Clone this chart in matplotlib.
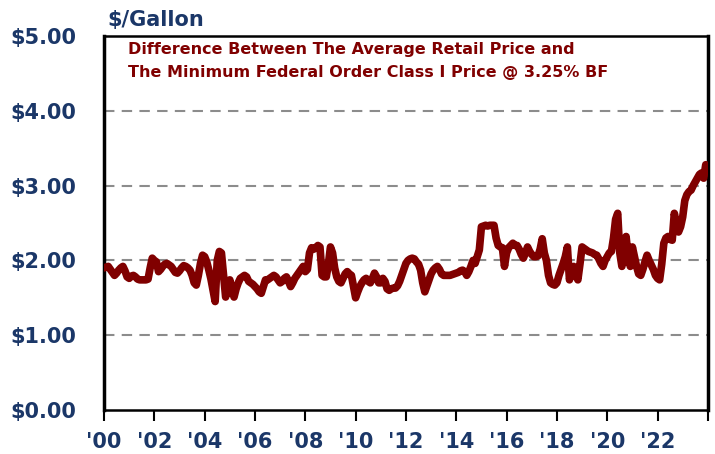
import numpy as np
from matplotlib import pyplot as plt

# monthly spread, Jan 2000 .. Dec 2023 ($/gallon)
y2000 = [1.90, 1.91, 1.92, 1.88, 1.84, 1.80, 1.83, 1.87, 1.90, 1.92, 1.86, 1.78]
y2001 = [1.76, 1.79, 1.80, 1.78, 1.75, 1.74, 1.74, 1.74, 1.74, 1.75, 1.90, 2.03]
y2002 = [2.00, 1.98, 1.85, 1.88, 1.92, 1.95, 1.96, 1.94, 1.92, 1.88, 1.84, 1.83]
y2003 = [1.86, 1.90, 1.93, 1.92, 1.90, 1.87, 1.80, 1.70, 1.67, 1.80, 1.96, 2.07]
y2004 = [2.05, 1.98, 1.87, 1.75, 1.60, 1.45, 2.00, 2.12, 2.10, 1.80, 1.51, 1.62]
y2005 = [1.74, 1.62, 1.51, 1.62, 1.70, 1.76, 1.78, 1.80, 1.78, 1.72, 1.70, 1.68]
y2006 = [1.65, 1.62, 1.58, 1.56, 1.65, 1.74, 1.74, 1.76, 1.78, 1.80, 1.78, 1.74]
y2007 = [1.70, 1.72, 1.76, 1.78, 1.72, 1.65, 1.70, 1.76, 1.80, 1.84, 1.88, 1.92]
y2008 = [1.85, 1.88, 2.10, 2.17, 2.15, 2.17, 2.20, 2.18, 1.80, 1.78, 1.78, 1.95]
y2009 = [2.18, 2.10, 1.90, 1.78, 1.72, 1.70, 1.76, 1.82, 1.85, 1.82, 1.80, 1.65]
y2010 = [1.50, 1.58, 1.65, 1.70, 1.74, 1.76, 1.72, 1.70, 1.76, 1.83, 1.78, 1.70]
y2011 = [1.70, 1.76, 1.72, 1.62, 1.60, 1.62, 1.63, 1.63, 1.66, 1.72, 1.80, 1.88]
y2012 = [1.96, 2.00, 2.02, 2.03, 2.02, 1.98, 1.95, 1.87, 1.70, 1.58, 1.66, 1.74]
y2013 = [1.82, 1.87, 1.90, 1.92, 1.88, 1.82, 1.80, 1.80, 1.80, 1.80, 1.81, 1.82]
y2014 = [1.83, 1.84, 1.86, 1.87, 1.85, 1.80, 1.85, 1.92, 2.00, 1.96, 2.05, 2.14]
y2015 = [2.45, 2.46, 2.47, 2.46, 2.47, 2.47, 2.47, 2.30, 2.20, 2.18, 2.17, 1.92]
y2016 = [2.10, 2.17, 2.20, 2.23, 2.20, 2.20, 2.15, 2.08, 2.03, 2.10, 2.18, 2.12]
y2017 = [2.08, 2.05, 2.05, 2.06, 2.15, 2.29, 2.10, 2.00, 1.80, 1.70, 1.68, 1.67]
y2018 = [1.70, 1.80, 1.88, 1.96, 2.05, 2.18, 1.74, 1.85, 1.92, 1.82, 1.74, 1.95]
y2019 = [2.18, 2.16, 2.14, 2.12, 2.11, 2.10, 2.08, 2.07, 2.02, 1.96, 1.92, 2.00]
y2020 = [2.05, 2.10, 2.12, 2.30, 2.55, 2.63, 2.10, 1.92, 2.10, 2.32, 2.05, 1.92]
y2021 = [2.18, 2.05, 1.92, 1.82, 1.80, 1.88, 1.98, 2.07, 2.00, 1.94, 1.88, 1.80]
y2022 = [1.76, 1.74, 1.95, 2.23, 2.30, 2.32, 2.28, 2.27, 2.63, 2.50, 2.38, 2.45]
y2023 = [2.58, 2.80, 2.88, 2.92, 2.94, 3.00, 3.05, 3.10, 3.15, 3.17, 3.10, 3.28]

spread = np.array(y2000 + y2001 + y2002 + y2003 + y2004 + y2005 + y2006 + y2007
                  + y2008 + y2009 + y2010 + y2011 + y2012 + y2013 + y2014 + y2015
                  + y2016 + y2017 + y2018 + y2019 + y2020 + y2021 + y2022 + y2023)
months = 2000 + np.arange(len(spread)) / 12

x_ticks = np.arange(2000, 2025, 2)
x_labels = ["'00", "'02", "'04", "'06", "'08", "'10", "'12", "'14", "'16", "'18", "'20", "'22", ""]
y_ticks = [0, 1, 2, 3, 4, 5]
y_labels = ['$0.00', '$1.00', '$2.00', '$3.00', '$4.00', '$5.00']

navy = '#1B3768'
maroon = '#800000'
plt.rcParams['font.family'] = ['DejaVu Sans']

fig = plt.figure(figsize=(7.15, 4.54), dpi=100)
ax = fig.add_axes([0.1455, 0.097, 0.8445, 0.8235])

for v in [1, 2, 3, 4]:
    ax.axhline(v, color='#8c8c8c', lw=1.5, ls=(0, (5, 3.5)), zorder=1)

ax.plot(months, spread, color=maroon, lw=5.5, solid_joinstyle='round',
        solid_capstyle='round', zorder=3)

ax.set_xlim(2000, 2024)
ax.set_ylim(0, 5)
ax.set_xticks(x_ticks)
ax.set_xticklabels(x_labels)
ax.set_yticks(y_ticks)
ax.set_yticklabels(y_labels)
ax.tick_params(axis='x', direction='out', length=8, width=1.5, pad=8,
               labelsize=15, labelcolor=navy)
ax.tick_params(axis='y', length=0, pad=20, labelsize=15, labelcolor=navy)
for lab in ax.get_xticklabels() + ax.get_yticklabels():
    lab.set_fontweight('bold')

for side in ['left', 'right']:
    ax.spines[side].set_linewidth(2.5)
for side in ['top', 'bottom']:
    ax.spines[side].set_linewidth(1.8)

ax.text(0.04, 0.985, 'Difference Between The Average Retail Price and\n'
        'The Minimum Federal Order Class I Price @ 3.25% BF',
        transform=ax.transAxes, ha='left', va='top', fontsize=11.5,
        fontweight='bold', color=maroon, linespacing=1.65)

fig.text(107 / 715, 1 - 20 / 454, '$/Gallon', ha='left', va='center',
         fontsize=15, fontweight='bold', color=navy)

fig.savefig('out.png', dpi=100)
